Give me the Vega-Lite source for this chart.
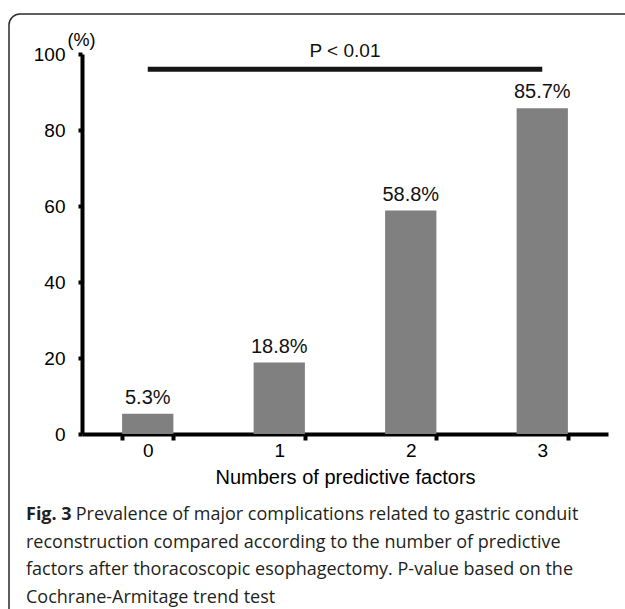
{
  "$schema": "https://vega.github.io/schema/vega-lite/v6.json",
  "autosize": {"type": "none"},
  "padding": {"left": 9, "top": 14, "right": -15, "bottom": -15},
  "width": 631,
  "height": 610,
  "background": "white",
  "config": {
    "view": {"stroke": "#2b2b2b", "strokeWidth": 1.5, "cornerRadius": 11},
    "font": "Liberation Sans"
  },
  "title": {
    "text": "Fig. 3",
    "subtitle": [
      "\u200b\u2003\u2003\u2002\u2009\u200aPrevalence of major complications related to gastric conduit",
      "reconstruction compared according to the number of predictive",
      "factors after thoracoscopic esophagectomy. P-value based on the",
      "Cochrane-Armitage trend test"
    ],
    "orient": "bottom",
    "anchor": "start",
    "frame": "group",
    "offset": -118,
    "dx": 17,
    "font": "Open Sans",
    "fontSize": 18,
    "fontWeight": "bold",
    "color": "#231f20",
    "lineHeight": 27.5,
    "subtitleFont": "Open Sans",
    "subtitleFontSize": 18,
    "subtitleColor": "#231f20",
    "subtitleLineHeight": 27.5,
    "subtitlePadding": -18
  },
  "datasets": {
    "bars": [
      {"factors": "0", "pct": 5.3, "label": "5.3%"},
      {"factors": "1", "pct": 18.8, "label": "18.8%"},
      {"factors": "2", "pct": 58.8, "label": "58.8%"},
      {"factors": "3", "pct": 85.7, "label": "85.7%"}
    ],
    "trend": [
      {"from": 0, "to": 3, "mid": 1.5, "p": 96, "label": "P < 0.01"}
    ]
  },
  "layer": [
    {
      "data": {"name": "bars"},
      "encoding": {
        "x": {
          "field": "factors",
          "type": "nominal",
          "sort": null,
          "scale": {"range": [73, 599], "paddingInner": 0.61, "paddingOuter": 0.305},
          "axis": {
            "orient": "bottom",
            "offset": -190,
            "tickBand": "extent",
            "labelAngle": 0,
            "domainColor": "black",
            "domainWidth": 4,
            "tickColor": "black",
            "tickWidth": 4,
            "tickSize": 6,
            "labelFont": "Liberation Sans",
            "labelFontSize": 19,
            "labelColor": "black",
            "labelPadding": 1,
            "title": "Numbers of predictive factors",
            "titleFont": "Liberation Sans",
            "titleFontSize": 20,
            "titleFontWeight": "normal",
            "titleColor": "black",
            "titlePadding": 7
          }
        },
        "y": {
          "field": "pct",
          "type": "quantitative",
          "title": "(%)",
          "scale": {"domain": [0, 100], "range": [420, 40]},
          "axis": {
            "orient": "left",
            "offset": -73,
            "values": [0, 20, 40, 60, 80, 100],
            "grid": false,
            "domainColor": "black",
            "domainWidth": 4,
            "tickColor": "black",
            "tickWidth": 4,
            "tickSize": 4,
            "labelFont": "Liberation Sans",
            "labelFontSize": 19,
            "labelColor": "black",
            "labelPadding": 13,
            "titleAngle": 0,
            "titleX": -1,
            "titleY": 26,
            "titleAlign": "center",
            "titleBaseline": "middle",
            "titleFont": "Liberation Sans",
            "titleFontSize": 18,
            "titleFontWeight": "normal",
            "titleColor": "black"
          }
        }
      },
      "layer": [
        {"mark": {"type": "bar", "color": "#808080"}},
        {
          "mark": {"type": "text", "baseline": "alphabetic", "dy": -10, "fontSize": 20, "font": "Liberation Sans", "color": "#111111"},
          "encoding": {"text": {"field": "label", "type": "nominal"}}
        }
      ]
    },
    {
      "data": {"name": "trend"},
      "encoding": {
        "y": {"field": "p", "type": "quantitative", "title": "(%)"}
      },
      "layer": [
        {
          "mark": {"type": "rule", "strokeWidth": 5, "color": "#151515"},
          "encoding": {
            "x": {"field": "from", "type": "quantitative", "scale": {"domain": [-0.5, 3.5], "range": [73, 599]}, "axis": null},
            "x2": {"field": "to"}
          }
        },
        {
          "mark": {"type": "text", "baseline": "alphabetic", "dy": -12.5, "fontSize": 19, "font": "Liberation Sans", "color": "#111111"},
          "encoding": {
            "x": {"field": "mid", "type": "quantitative", "scale": {"domain": [-0.5, 3.5], "range": [73, 599]}, "axis": null},
            "text": {"field": "label", "type": "nominal"}
          }
        }
      ]
    }
  ],
  "resolve": {"scale": {"x": "independent"}}
}
